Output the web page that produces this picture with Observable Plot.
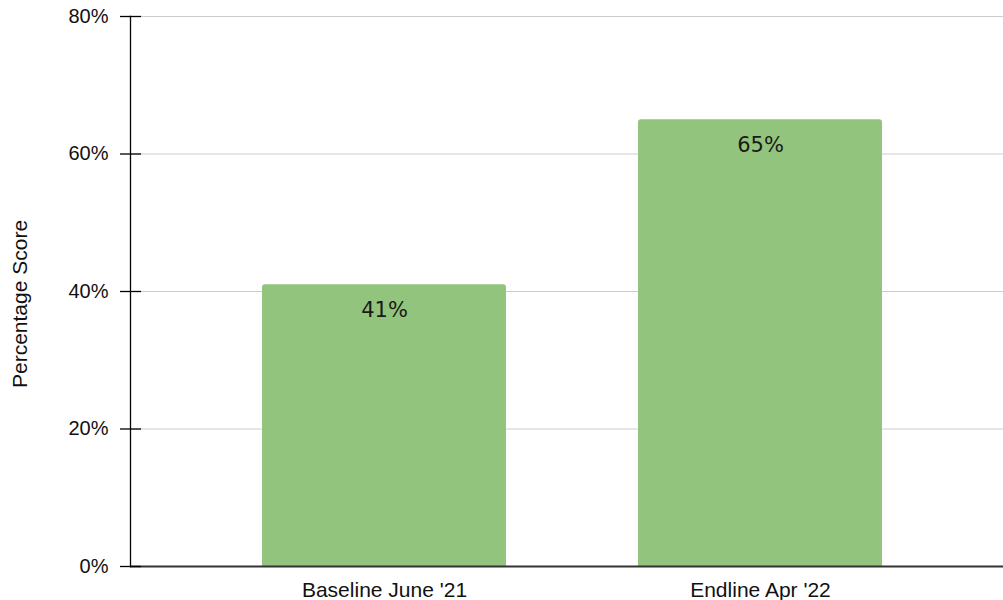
<!DOCTYPE html>
<html>
<head>
<meta charset="utf-8">
<script src="https://cdn.jsdelivr.net/npm/d3@7"></script>
<script src="https://cdn.jsdelivr.net/npm/@observablehq/plot@0.6"></script>
<style>
  html, body { margin: 0; padding: 0; background: #fff; }
  #chart svg { display: block; }
</style>
</head>
<body>
<div id="chart"></div>
<script>
const categories = ["Baseline June '21", "Endline Apr '22"];
const scores = [0.41, 0.65];
const yTicks = [0, 0.2, 0.4, 0.6, 0.8];
const yTitle = "Percentage Score";

const data = categories.map((c, i) => ({category: c, score: scores[i]}));
const pct = d3.format(".0%");

const chart = Plot.plot({
  width: 1003,
  height: 600,
  marginLeft: 130,
  marginRight: 0,
  marginTop: 16,
  marginBottom: 34,
  style: {fontFamily: "'Liberation Sans', Arial, sans-serif", fontSize: "20px", color: "#000", background: "#fff"},
  x: {domain: categories, range: [130, 1015], padding: 0.35, label: null},
  y: {domain: [0, 0.8], label: null},
  marks: [
    Plot.gridY(yTicks, {stroke: "#cccccc", strokeOpacity: 1, strokeWidth: 1}),
    Plot.barY(data, {x: "category", y: "score", fill: "#93c47d", ry1: 3}),
    Plot.ruleY([0], {stroke: "#333333", strokeWidth: 2}),
    Plot.frame({anchor: "left", stroke: "#000", strokeWidth: 1.3}),
    Plot.axisY(yTicks, {tickSize: 10, tickPadding: 12, tickFormat: pct, stroke: "#000", strokeWidth: 1.3, fontSize: 20, fill: "#111", label: null}),
    Plot.axisY(yTicks, {tickSize: 11, dx: 11, tickFormat: () => "", stroke: "#000", strokeWidth: 1.3, label: null}),
    Plot.axisX({tickSize: 0, tickPadding: 16, fontSize: 21, fill: "#111", label: null}),
    Plot.text(data, {x: "category", y: "score", text: d => pct(d.score), dy: 25.5, fontSize: 21, fontFamily: "'DejaVu Sans', Verdana, sans-serif", fill: "#1a1a1a"}),
    Plot.text([yTitle], {frameAnchor: "left", text: d => d, rotate: -90, textAnchor: "middle", dx: -110, dy: 12.5, fontSize: 21, fill: "#111"})
  ]
});

document.getElementById("chart").appendChild(chart);
</script>
</body>
</html>
